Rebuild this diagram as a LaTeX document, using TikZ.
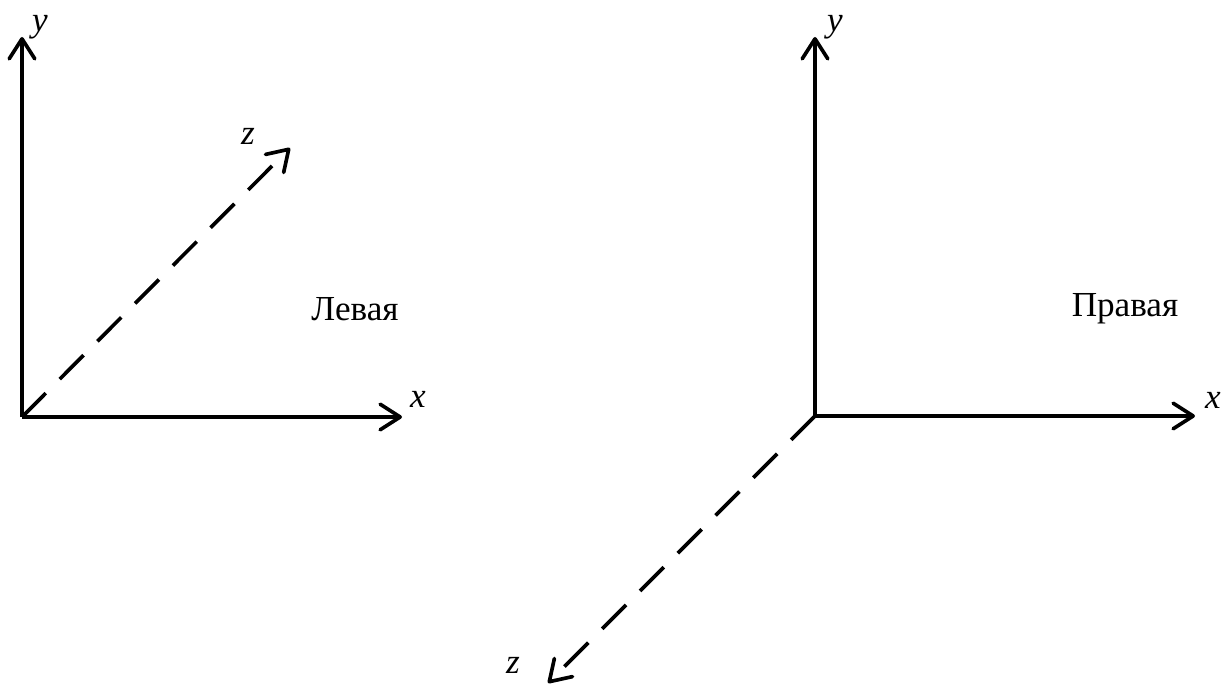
\documentclass[tikz,border=0pt]{standalone}
\usepackage{fontspec}
\setmainfont{Liberation Serif}
\usetikzlibrary{arrows.meta}

\begin{document}
\begin{tikzpicture}[
    x=0.025cm, y=0.025cm,
    every node/.style={font=\fontsize{25}{30}\selectfont, inner sep=0pt},
    axis/.style={line width=2.6pt, -{Straight Barb[length=5mm, width=6.4mm, round]}},
    zaxis/.style={axis, dash pattern=on 24pt off 14pt},
    axlabel/.style={font=\fontsize{25}{30}\selectfont\itshape}
]
\useasboundingbox (0,0) rectangle (1224,684);

% ============ LEFT SYSTEM ============
\coordinate (l_origin) at (22,267);
\coordinate (l_ytip) at (22,647);
\coordinate (l_xtip) at (402,267);
\coordinate (l_ztip) at (290,536);

\draw[axis] (l_origin) -- (l_ytip);
\draw[axis] (l_origin) -- (l_xtip);
\draw[zaxis] (l_origin) -- (l_ztip);

\node[axlabel] (l_ylabel) at (40,657) {y};
\node[axlabel] (l_xlabel) at (418,285) {x};
\node[axlabel] (l_zlabel) at (248,548) {z};
\node (l_title) at (355,375) {Левая};

% ============ RIGHT SYSTEM ============
\coordinate (r_origin) at (815,268);
\coordinate (r_ytip) at (815,647);
\coordinate (r_xtip) at (1195,268);
\coordinate (r_ztip) at (548,1);

\draw[axis] (r_origin) -- (r_ytip);
\draw[axis] (r_origin) -- (r_xtip);
\draw[zaxis] (r_origin) -- (r_ztip);

\node[axlabel] (r_ylabel) at (835,657) {y};
\node[axlabel] (r_xlabel) at (1213,284) {x};
\node[axlabel] (r_zlabel) at (513,19) {z};
\node (r_title) at (1125,375) {Правая};

\end{tikzpicture}
\end{document}
